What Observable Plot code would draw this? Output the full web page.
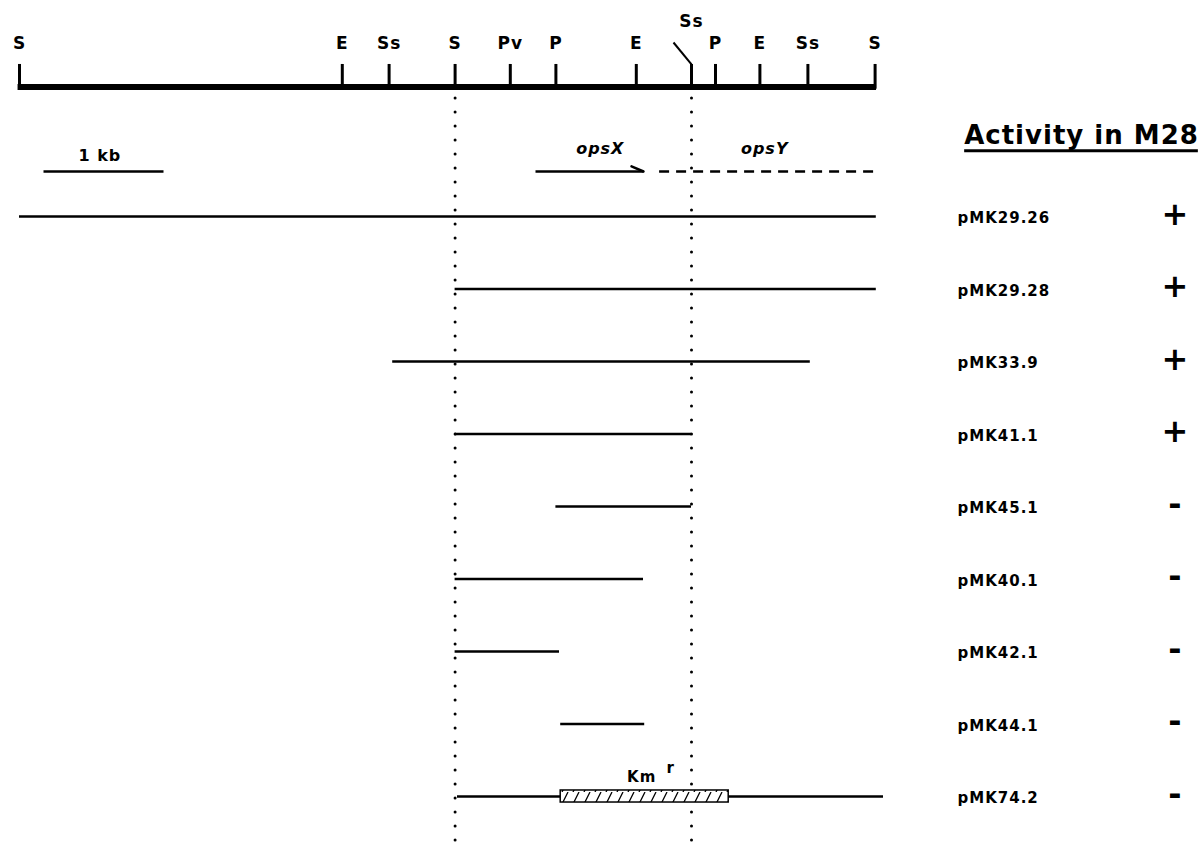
<!DOCTYPE html>
<html><head><meta charset="utf-8">
<script src="https://cdn.jsdelivr.net/npm/d3@7"></script>
<script src="https://cdn.jsdelivr.net/npm/@observablehq/plot@0.6"></script>
<style>
body{margin:0;background:#fff}
svg{display:block}
svg text{letter-spacing:1px}
</style>
</head><body><div id="chart"></div>
<script>
// Restriction map (positions in kb from the left-hand S site)
const siteNames = ["S","E","Ss","S","Pv","P","E","Ss","P","E","Ss","S"];
const sitePos   = [0, 2.69, 3.08, 3.63, 4.09, 4.47, 5.14, 5.6, 5.8, 6.17, 6.57, 7.13];
const siteRaised = [false,false,false,false,false,false,false,true,false,false,false,false];

// Subclones (kb)
const constructs = ["pMK29.26","pMK29.28","pMK33.9","pMK41.1","pMK45.1","pMK40.1","pMK42.1","pMK44.1","pMK74.2"];
const fragStart  = [0,    3.63, 3.11, 3.63, 4.47, 3.63, 3.63, 4.51, 3.65];
const fragEnd    = [7.14, 7.14, 6.59, 5.6,  5.6,  5.2,  4.5,  5.21, 7.2];
const activity   = ["+","+","+","+","-","-","-","-","-"];

// Genes
const geneNames = ["opsX","opsY"];
const geneLabelPos = [4.84, 6.21];
const opsXArrow = [4.3, 5.2];
const opsYDashed = [5.33, 7.16];

// Scale bar (kb)
const scaleBar = [0.2, 1.2];
const scaleLabel = "1 kb";

// Km resistance cassette in pMK74.2
const kmBox = [4.51, 5.91];
const kmConstruct = "pMK74.2";

const header = "Activity in M28";

// rows (construct i sits on row i+1)
const mapRow = -0.786, tickTopRow = -1.097, siteLabelRow = -1.386, raisedLabelRow = -1.69,
      leaderTopRow = -1.40, geneRow = 0.379, geneLabelRow = 0.062, scaleLabelRow = 0.159,
      headerRow = -0.117, dotTopRow = -0.628, dotBottomRow = 9.75;

const sites = siteNames.map((name, i) => ({name, pos: sitePos[i], raised: siteRaised[i]}));
const rows = constructs.map((name, i) => ({name, row: i + 1, start: fragStart[i], end: fragEnd[i], act: activity[i]}));
const kmRow = rows.find(d => d.name === kmConstruct).row;

const font = "DejaVu Sans";
const svg = Plot.plot({
  width: 1198, height: 849, margin: 0,
  x: {domain: [0, 1], range: [19, 139], axis: null},
  y: {domain: [1, 9], range: [216, 796], axis: null},
  style: {fontFamily: font, fontWeight: "bold", background: "white", color: "black"},
  marks: [
    // dotted guides at the S and Ss sites
    Plot.ruleX([sitePos[3], sitePos[7]], {x: d => d, y1: dotTopRow, y2: dotBottomRow, strokeWidth: 3, strokeDasharray: "0,14", strokeLinecap: "round"}),
    // backbone
    Plot.ruleY([mapRow], {y: d => d, x1: sitePos[0] - 0.012, x2: sitePos[sitePos.length - 1] + 0.012, strokeWidth: 6}),
    Plot.ruleX(sites, {x: "pos", y1: mapRow + 0.03, y2: tickTopRow, strokeWidth: 3}),
    Plot.text(sites, {x: "pos", y: d => d.raised ? raisedLabelRow : siteLabelRow, text: "name", fontSize: 17}),
    Plot.link(sites.filter(d => d.raised), {x1: d => d.pos - 0.15, y1: leaderTopRow, x2: "pos", y2: tickTopRow, strokeWidth: 2}),
    // scale bar
    Plot.link([scaleBar], {x1: d => d[0], x2: d => d[1], y1: geneRow, y2: geneRow, strokeWidth: 2.5}),
    Plot.text([scaleLabel], {x: (scaleBar[0] + scaleBar[1]) / 2 - 0.03, y: scaleLabelRow, text: d => d, fontSize: 16}),
    // genes
    Plot.link([opsXArrow], {x1: d => d[0], x2: d => d[1], y1: geneRow, y2: geneRow, strokeWidth: 2.5}),
    Plot.link([opsXArrow], {x1: d => d[1] - 0.1, x2: d => d[1], y1: geneRow - 0.07, y2: geneRow, strokeWidth: 2.5, strokeLinecap: "round"}),
    Plot.link([opsYDashed], {x1: d => d[0], x2: d => d[1], y1: geneRow, y2: geneRow, strokeWidth: 2.5, strokeDasharray: "10,7"}),
    Plot.text(geneNames, {x: (d, i) => geneLabelPos[i], y: geneLabelRow, text: d => d, fontSize: 16, fontStyle: "italic"}),
    // fragments
    Plot.ruleY(rows, {y: "row", x1: "start", x2: "end", strokeWidth: 2.5}),
    // Km cassette
    Plot.rect([kmBox], {x1: d => d[0], x2: d => d[1], y1: kmRow - 0.083, y2: kmRow + 0.083, fill: "white"}),
    Plot.rect([kmBox], {x1: d => d[0], x2: d => d[1], y1: kmRow - 0.083, y2: kmRow + 0.083, fill: "url(#hatch)", stroke: "black", strokeWidth: 1.5}),
    Plot.text(["Km"], {x: (kmBox[0] + kmBox[1]) / 2, y: kmRow - 0.262, text: d => d, fontSize: 15, dx: -3}),
    Plot.text(["r"], {x: (kmBox[0] + kmBox[1]) / 2, y: kmRow - 0.39, text: d => d, fontSize: 15, dx: 26}),
    // right column
    Plot.text([header], {frameAnchor: "right", dx: -117, y: headerRow, text: d => d, textAnchor: "middle", fontSize: 26}),
    Plot.text(rows, {frameAnchor: "right", dx: -241, y: "row", dy: 2, text: "name", textAnchor: "start", fontSize: 15}),
    Plot.text(rows, {frameAnchor: "right", dx: -23, y: "row", dy: -2, text: "act", textAnchor: "middle", fontSize: 32})
  ]
});

// hatch pattern definition
const defs = d3.select(svg).insert("defs", ":first-child");
const pat = defs.append("pattern").attr("id", "hatch").attr("patternUnits", "userSpaceOnUse")
  .attr("width", 11).attr("height", 12);
pat.append("path").attr("d", "M1,12 L7,0 M-10,12 L-4,0 M12,12 L18,0")
  .attr("stroke", "black").attr("stroke-width", 1.3).attr("fill", "none");

document.getElementById("chart").appendChild(svg);

// underline for the header text (drawn in the text's own coordinate system)
const headerText = Array.from(svg.querySelectorAll("text")).find(t => t.textContent === header);
if (headerText) {
  const bb = headerText.getBBox();
  const y = bb.y + bb.height + 1;
  const line = document.createElementNS("http://www.w3.org/2000/svg", "line");
  const tf = headerText.getAttribute("transform");
  if (tf) line.setAttribute("transform", tf);
  line.setAttribute("x1", bb.x);
  line.setAttribute("x2", bb.x + bb.width - 1);
  line.setAttribute("y1", y);
  line.setAttribute("y2", y);
  line.setAttribute("stroke", "black");
  line.setAttribute("stroke-width", 3);
  headerText.parentNode.appendChild(line);
}
</script>
</body></html>
